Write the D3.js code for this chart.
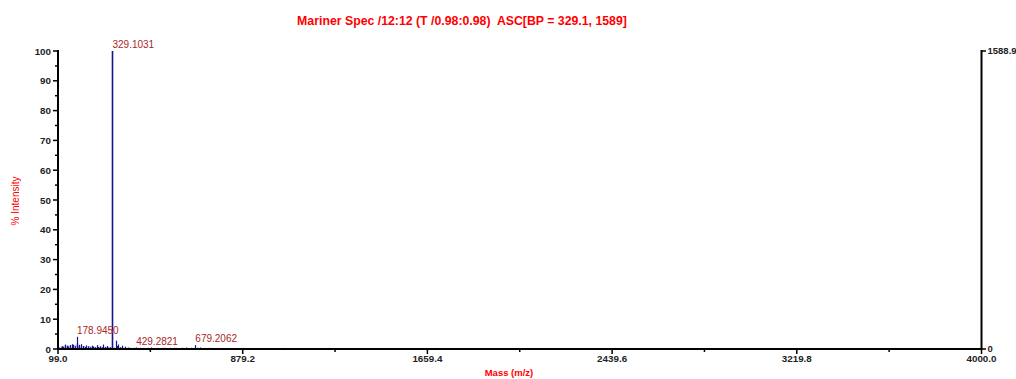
<!DOCTYPE html>
<html><head><meta charset="utf-8">
<script src="https://cdn.jsdelivr.net/npm/d3@7"></script>
<style>body{margin:0;background:#fff}svg{display:block;font-family:"Liberation Sans",Arial,sans-serif}</style>
</head><body><svg id="c" width="1016" height="379"></svg>
<script>
const title = "Mariner Spec /12:12 (T /0.98:0.98)  ASC[BP = 329.1, 1589]";
const xTickValues = [99.0, 879.2, 1659.4, 2439.6, 3219.8, 4000.0];
const yTickValues = [0,10,20,30,40,50,60,70,80,90,100];
const rightMax = 1588.9;
// centroid peaks (m/z, % intensity)
const peakMz  = [110,116,122,129,135,141,149,157,164,170,178.945,181,188,196,206,212,217,227,234,241,248,255,262,270,276,283,290,297,305,312,318,329.1031,344,349,354,362,368,375,382,396,412,429.2821,447,466,490,515,538,560,590,612,640,660,679.2062,700,735,770,820,905,960,1080,1150,1200,1330,1500,1620,1760,1900,2100,2310,2490,2650,2800,3000,3250,3500,3760];
const peakInt = [0.5,0.9,0.7,1.5,1.1,0.8,1.3,1.6,1.4,0.9,4.1,2.0,1.4,1.6,1.0,0.7,1.2,0.9,0.6,1.1,0.8,0.6,1.3,0.7,0.9,0.6,1.5,0.7,1.0,0.5,0.6,100,2.8,1.0,1.5,0.6,1.1,0.4,0.8,0.5,0.3,0.5,0.4,0.3,0.5,0.3,0.4,0.3,0.4,0.3,0.5,0.4,1.3,0.5,0.4,0.3,0.3,0.3,0.3,0.3,0.3,0.2,0.3,0.2,0.3,0.3,0.2,0.3,0.3,0.3,0.2,0.3,0.2,0.3,0.2,0.3];
const labelMz = [329.1031, 178.9450, 429.2821, 679.2062];
const labelText = ["329.1031", "178.9450", "429.2821", "679.2062"];
// faint profile noise (m/z, % intensity)
const noiseMz  = [105,113,119,125,132,138,145,152,160,167,174,185,192,200,209,220,230,238,244,251,258,266,273,280,287,294,301,308,315,322,337,358,372,390,405,420,440,458,480,500,525,550,575,600,625,650,690,720,750,790,850,880,940,1000,1050,1110,1180,1250,1300,1380,1450,1560,1700,1830,1980,2050,2200,2380,2560,2700,2900,3100,3350,3600,3850,3950];
const noiseInt = [0.7,0.9,1.0,1.2,1.0,1.1,1.3,1.0,1.2,1.3,1.4,1.0,0.9,1.1,1.0,0.8,1.0,0.9,0.8,0.9,0.7,0.8,0.7,0.8,0.7,0.6,0.7,0.6,0.5,0.6,0.6,0.5,0.5,0.4,0.5,0.5,0.4,0.4,0.5,0.4,0.4,0.5,0.4,0.4,0.5,0.4,0.5,0.4,0.4,0.4,0.3,0.4,0.3,0.3,0.4,0.3,0.3,0.4,0.3,0.3,0.3,0.3,0.4,0.3,0.3,0.3,0.3,0.3,0.3,0.3,0.3,0.3,0.3,0.3,0.3,0.3];

const svg = d3.select("#c");
const x = d3.scaleLinear().domain([99.0, 4000.0]).range([58, 981.5]);
const y = d3.scaleLinear().domain([0, 100]).range([349, 51]);
const yR = d3.scaleLinear().domain([0, rightMax]).range([349, 51]);

// title
svg.append("text").attr("x", 462).attr("y", 25).attr("text-anchor","middle").style("white-space","pre")
  .attr("fill","#ff0000").attr("font-weight","bold").attr("font-size","12.3px").text(title);
// axis titles
svg.append("text").attr("transform","translate(19,201) rotate(-90)").attr("text-anchor","middle")
  .attr("fill","#ff0000").attr("font-size","10px").text("% Intensity");
svg.append("text").attr("x", 509).attr("y", 376).attr("text-anchor","middle")
  .attr("fill","#ff0000").attr("font-weight","bold").attr("font-size","9.5px").text("Mass (m/z)");

// noise
svg.append("g").selectAll("line").data(noiseMz.map((m,i)=>[m,noiseInt[i]])).join("line")
  .attr("x1",d=>x(d[0])).attr("x2",d=>x(d[0])).attr("y1",y(0)).attr("y2",d=>y(d[1]))
  .attr("stroke","#a8a8e0").attr("stroke-width",1.2);
// peaks
svg.append("g").selectAll("line").data(peakMz.map((m,i)=>[m,peakInt[i]])).join("line")
  .attr("x1",d=>Math.round(x(d[0]))+0.5).attr("x2",d=>Math.round(x(d[0]))+0.5).attr("y1",y(0)).attr("y2",d=>y(d[1]))
  .attr("stroke","#14148c").attr("stroke-width",d=>d[1]>50?1.6:1.2);
// labels
labelMz.forEach((m,i)=>{
  const idx = peakMz.indexOf(m);
  svg.append("text").attr("x", x(m)).attr("y", y(peakInt[idx]) - 3)
    .attr("fill","#a82828").attr("font-size","10px").text(labelText[i]);
});

// left axis
const gl = svg.append("g");
gl.append("line").attr("x1",58).attr("x2",58).attr("y1",y(100)-1).attr("y2",y(0)).attr("stroke","#000").attr("stroke-width",2);
gl.selectAll(".mj").data(yTickValues).join("line").attr("x1",53).attr("x2",58).attr("y1",d=>y(d)).attr("y2",d=>y(d)).attr("stroke","#000").attr("stroke-width",1.5);
gl.selectAll(".mn").data(d3.range(5,100,10)).join("line").attr("class","mn").attr("x1",55).attr("x2",59).attr("y1",d=>y(d)).attr("y2",d=>y(d)).attr("stroke","#000").attr("stroke-width",1.5);
gl.selectAll("text").data(yTickValues).join("text").attr("x",51).attr("y",d=>y(d)+3.5).attr("text-anchor","end")
  .attr("font-size","9.8px").attr("font-weight","bold").attr("fill","#222").text(d=>d);

// bottom axis
const gb = svg.append("g");
gb.append("line").attr("x1",57).attr("x2",982.5).attr("y1",349).attr("y2",349).attr("stroke","#000").attr("stroke-width",2);
gb.selectAll(".mj").data(xTickValues).join("line").attr("x1",d=>x(d)).attr("x2",d=>x(d)).attr("y1",349).attr("y2",354).attr("stroke","#000").attr("stroke-width",1.5);
const minors = xTickValues.slice(0,-1).map((v,i)=>(v+xTickValues[i+1])/2);
gb.selectAll(".mn").data(minors).join("line").attr("class","mn").attr("x1",d=>x(d)).attr("x2",d=>x(d)).attr("y1",349).attr("y2",352).attr("stroke","#000").attr("stroke-width",1.5);
gb.selectAll("text").data(xTickValues).join("text").attr("x",d=>x(d)).attr("y",362).attr("text-anchor","middle")
  .attr("font-size","9.8px").attr("font-weight","bold").attr("fill","#222").text(d=>d.toFixed(1));

// right axis
const gr = svg.append("g");
gr.append("line").attr("x1",981.5).attr("x2",981.5).attr("y1",yR(rightMax)-1).attr("y2",yR(0)).attr("stroke","#000").attr("stroke-width",2);
gr.selectAll("line.t").data([0, rightMax]).join("line").attr("class","t").attr("x1",981.5).attr("x2",986).attr("y1",d=>yR(d)).attr("y2",d=>yR(d)).attr("stroke","#000").attr("stroke-width",1.5);
gr.selectAll("text").data([0, rightMax]).join("text").attr("x",987.5).attr("y",d=>yR(d)+3)
  .attr("font-size","9.5px").attr("font-weight","bold").attr("fill","#222").text(d=>d===0?"0":d.toFixed(1));
</script></body></html>
